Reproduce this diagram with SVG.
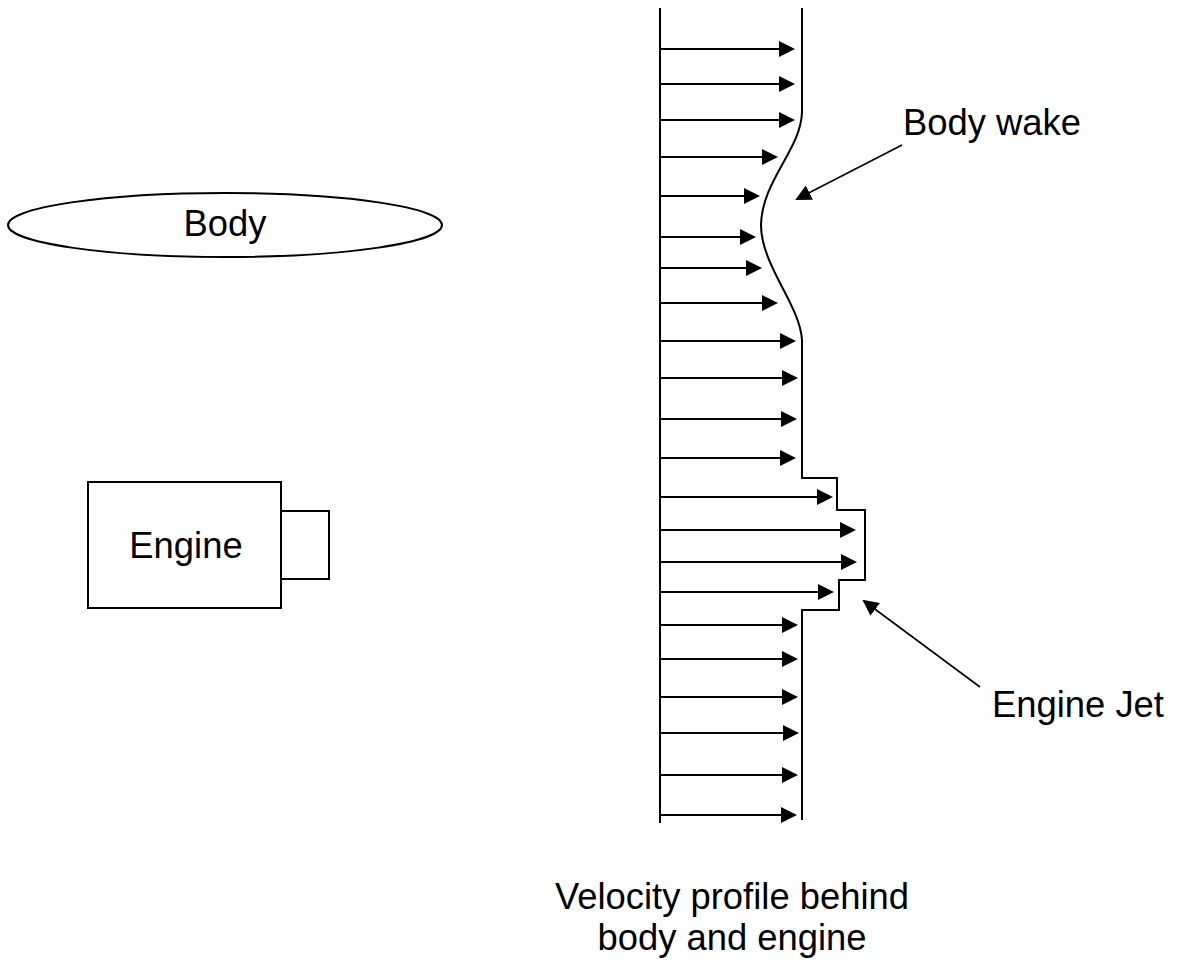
<svg xmlns="http://www.w3.org/2000/svg" width="1178" height="967" viewBox="0 0 1178 967">
<style>
.ln{stroke:#000;stroke-width:2;fill:none}
.thin{stroke:#000;stroke-width:1.6;fill:none}
.txt{font-family:"Liberation Sans",Arial,sans-serif;font-size:36.4px;fill:#000;text-anchor:middle}
</style>
<defs>
<marker id="ah" markerUnits="userSpaceOnUse" viewBox="0 0 16 16" refX="14" refY="8" markerWidth="16" markerHeight="16" orient="auto">
<path d="M0,0 L16,8 L0,16 z" fill="#000"/>
</marker>
</defs>
<rect width="1178" height="967" fill="#fff"/>
<g id="body">
<ellipse cx="225" cy="225" rx="217" ry="32" class="ln"/>
<text x="225" y="236" class="txt">Body</text>
</g>
<g id="engine">
<rect x="88" y="482" width="193" height="126" class="ln"/>
<rect x="281" y="511" width="48" height="68" class="ln"/>
<text x="186" y="558" class="txt">Engine</text>
</g>
<g id="profile">
<line x1="660" y1="8" x2="660" y2="823" class="ln"/>
<path d="M802,8 L802,112 C801,150 762,180 761,225 C761,265 800,305 802,340 L802,478 L837,478 L837,510 L865,510 L865,580 L839,580 L839,610 L802,610 L802,820" class="ln"/>
</g>
<g id="connectors">
<line x1="660" y1="49" x2="793" y2="49" class="ln" marker-end="url(#ah)"/>
<line x1="660" y1="84" x2="793" y2="84" class="ln" marker-end="url(#ah)"/>
<line x1="660" y1="120" x2="793" y2="120" class="ln" marker-end="url(#ah)"/>
<line x1="660" y1="157" x2="776" y2="157" class="ln" marker-end="url(#ah)"/>
<line x1="660" y1="196" x2="758" y2="196" class="ln" marker-end="url(#ah)"/>
<line x1="660" y1="237" x2="754" y2="237" class="ln" marker-end="url(#ah)"/>
<line x1="660" y1="268" x2="760" y2="268" class="ln" marker-end="url(#ah)"/>
<line x1="660" y1="303" x2="776" y2="303" class="ln" marker-end="url(#ah)"/>
<line x1="660" y1="341" x2="794" y2="341" class="ln" marker-end="url(#ah)"/>
<line x1="660" y1="378" x2="796" y2="378" class="ln" marker-end="url(#ah)"/>
<line x1="660" y1="419" x2="795" y2="419" class="ln" marker-end="url(#ah)"/>
<line x1="660" y1="458" x2="794" y2="458" class="ln" marker-end="url(#ah)"/>
<line x1="660" y1="497" x2="831" y2="497" class="ln" marker-end="url(#ah)"/>
<line x1="660" y1="530" x2="854" y2="530" class="ln" marker-end="url(#ah)"/>
<line x1="660" y1="562" x2="855" y2="562" class="ln" marker-end="url(#ah)"/>
<line x1="660" y1="592" x2="832" y2="592" class="ln" marker-end="url(#ah)"/>
<line x1="660" y1="625" x2="796" y2="625" class="ln" marker-end="url(#ah)"/>
<line x1="660" y1="659" x2="796" y2="659" class="ln" marker-end="url(#ah)"/>
<line x1="660" y1="697" x2="796" y2="697" class="ln" marker-end="url(#ah)"/>
<line x1="660" y1="733" x2="797" y2="733" class="ln" marker-end="url(#ah)"/>
<line x1="660" y1="775" x2="796" y2="775" class="ln" marker-end="url(#ah)"/>
<line x1="660" y1="815" x2="795" y2="815" class="ln" marker-end="url(#ah)"/>
<line x1="902" y1="145" x2="797" y2="199" class="thin" marker-end="url(#ah)"/>
<line x1="980" y1="687" x2="864" y2="601" class="thin" marker-end="url(#ah)"/>
</g>
<g id="labels">
<text x="903" y="135" class="txt" style="text-anchor:start">Body wake</text>
<text x="992" y="717" class="txt" style="text-anchor:start">Engine Jet</text>
<text x="732" y="909" class="txt">Velocity profile behind</text>
<text x="732" y="950" class="txt">body and engine</text>
</g>
</svg>
